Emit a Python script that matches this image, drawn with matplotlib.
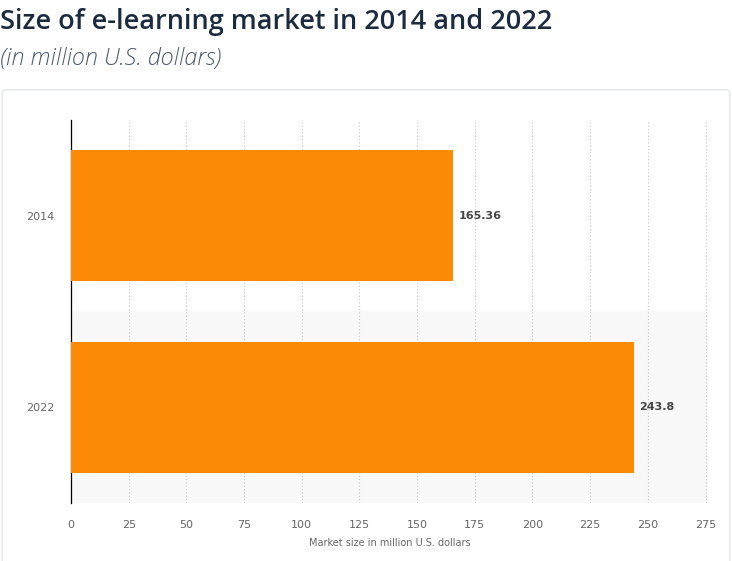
import matplotlib.pyplot as plt
import matplotlib.patches as mpatches

years = ["2014", "2022"]
market_size = [165.36, 243.8]
value_labels = ["165.36", "243.8"]
xticks = [0, 25, 50, 75, 100, 125, 150, 175, 200, 225, 250, 275]

fig = plt.figure(figsize=[7.32, 5.61], dpi=100)

# card behind the chart
card = mpatches.FancyBboxPatch((0.003, -0.01), 0.994, 0.85, boxstyle="round,pad=0,rounding_size=0.006",
                               transform=fig.transFigure, facecolor="white", edgecolor="#e6e9ee",
                               linewidth=1.2, zorder=-10)
fig.patches.append(card)

fig.text(0.0, 0.96, "Size of e-learning market in 2014 and 2022", fontsize=19.5, color="#1c2b3f",
         family="Open Sans", fontweight="semibold", va="center", ha="left")
fig.text(0.0, 0.895, "(in million U.S. dollars)", fontsize=16.8, color="#4a5a70", style="italic",
         family="Open Sans", fontweight="light", va="center", ha="left")

ax = fig.add_axes([0.097, 0.1034, 0.870, 0.683])
ax.set_facecolor("none")
pos = list(range(len(years)))
ax.barh(pos, market_size, height=0.685, color="#fb8a05", zorder=3)

# alternating row shading
for i in pos:
    if i % 2 == 1:
        ax.axhspan(i - 0.5, i + 0.5, color="#f8f8f8", zorder=0)

for i in pos:
    ax.text(market_size[i] + 2.5, i, value_labels[i], va="center", ha="left", fontsize=8,
            fontweight="bold", color="#454545", zorder=4)

ax.set_ylim(len(years) - 0.5, -0.5)
ax.set_xlim(0, 276)
ax.set_yticks(pos)
ax.set_yticklabels(years)
ax.set_xticks(xticks)
ax.xaxis.grid(True, linestyle=(0, (1, 2)), color="#c8c8c8", linewidth=0.8, zorder=1)
ax.set_axisbelow(True)
for s in ["top", "right", "bottom"]:
    ax.spines[s].set_visible(False)
ax.spines["left"].set_color("black")
ax.spines["left"].set_linewidth(0.9)
ax.tick_params(axis="both", length=0, labelsize=8, labelcolor="#666666")
ax.tick_params(axis="x", pad=12)
ax.tick_params(axis="y", pad=12)
ax.set_xlabel("Market size in million U.S. dollars", fontsize=7, color="#666666", labelpad=6)

fig.savefig("out.png", dpi=100)
